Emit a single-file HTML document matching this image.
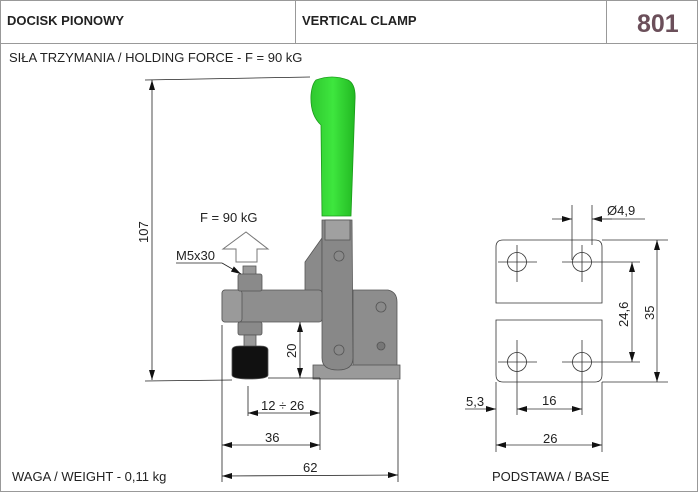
<!DOCTYPE html>
<html><head><style>
html,body{margin:0;padding:0;background:#fff;}
svg{display:block;font-family:"Liberation Sans",Arial,sans-serif;}
</style></head><body>
<svg width="700" height="492" viewBox="0 0 700 492" xmlns="http://www.w3.org/2000/svg">
<defs>
<marker id="a" viewBox="0 0 10 6" refX="10" refY="3" markerWidth="10" markerHeight="6" orient="auto-start-reverse" markerUnits="userSpaceOnUse"><path d="M0,0 L10,3 L0,6 z" fill="#111"/></marker>
<linearGradient id="g" x1="0" x2="1"><stop offset="0" stop-color="#2fc82f"/><stop offset="0.5" stop-color="#3ee63e"/><stop offset="1" stop-color="#22b822"/></linearGradient>
</defs>
<!-- header -->
<rect x="0.5" y="0.5" width="697" height="491" fill="none" stroke="#999"/>
<line x1="0" y1="43.5" x2="698" y2="43.5" stroke="#999"/>
<line x1="295.5" y1="0" x2="295.5" y2="43" stroke="#999"/>
<line x1="606.5" y1="0" x2="606.5" y2="43" stroke="#999"/>
<text x="7" y="25" font-size="13" font-weight="bold" fill="#222">DOCISK PIONOWY</text>
<text x="302" y="25" font-size="13" font-weight="bold" fill="#222">VERTICAL CLAMP</text>
<text x="637" y="32" font-size="25" font-weight="bold" fill="#6b4f5a">801</text>
<text x="9" y="62" font-size="13" fill="#222">SIŁA TRZYMANIA / HOLDING FORCE - F = 90 kG</text>
<text x="12" y="481" font-size="13" fill="#222">WAGA / WEIGHT - 0,11 kg</text>
<text x="492" y="481" font-size="13" fill="#222">PODSTAWA / BASE</text>

<!-- clamp -->
<g stroke="#555" stroke-width="0.8">
<path d="M305,292 L305,262 L322,238 L322,292 z" fill="#8a8a8a"/>
<path d="M353,290 L388,290 Q397,292 397,302 L397,370 L353,370 z" fill="#8d8d8d"/>
<rect x="313" y="365" width="87" height="14" fill="#9a9a9a"/>
<path d="M322,220 L352,220 L353,358 Q353,370 338,370 Q322,370 322,358 z" fill="#888"/>
<rect x="325" y="220" width="25" height="20" fill="#a0a0a0"/>
<rect x="222" y="290" width="100" height="32" rx="3" fill="#8e8e8e"/>
<rect x="222" y="290" width="20" height="32" rx="3" fill="#9a9a9a"/>
<rect x="243" y="266" width="13" height="10" fill="#999"/>
<rect x="238" y="274" width="24" height="17" rx="2" fill="#8a8a8a"/>
<rect x="238" y="322" width="24" height="13" rx="2" fill="#8a8a8a"/>
<rect x="244" y="335" width="12" height="14" fill="#9a9a9a"/>
<path d="M232,350 Q232,346 240,346 L260,346 Q268,346 268,350 L268,375 Q268,379 250,379 Q232,379 232,375 z" fill="#111"/>
<circle cx="339" cy="256" r="5" fill="#8a8a8a"/>
<circle cx="339" cy="350" r="5" fill="#8a8a8a"/>
<circle cx="381" cy="307" r="5" fill="#8a8a8a"/>
<circle cx="381" cy="346" r="4" fill="#777"/>
</g>
<path d="M316,80 Q332,74 348,80 Q356,84 355,100 L351,216 L322,216 L321,125 Q310,115 311,95 Q312,84 316,80 z" fill="url(#g)" stroke="#1a9a1a" stroke-width="0.8"/>

<!-- force arrow -->
<path d="M236,262 L236,249 L223,249 L246,232 L268,249 L257,249 L257,262 z" fill="#fff" stroke="#777"/>
<text x="200" y="222" font-size="13" fill="#222">F = 90 kG</text>
<text x="176" y="260" font-size="13" fill="#222">M5x30</text>
<line x1="176" y1="263" x2="222" y2="263" stroke="#222" stroke-width="0.8"/>
<line x1="222" y1="263" x2="241" y2="274" stroke="#222" stroke-width="0.8" marker-end="url(#a)"/>

<!-- dims left -->
<g stroke="#222" stroke-width="0.8" fill="none">
<line x1="145" y1="80" x2="310" y2="77"/>
<line x1="145" y1="381" x2="232" y2="380"/>
<line x1="152" y1="80" x2="152" y2="380" marker-start="url(#a)" marker-end="url(#a)"/>
<line x1="268" y1="378" x2="320" y2="378"/>
<line x1="300" y1="322" x2="300" y2="378" marker-start="url(#a)" marker-end="url(#a)"/>
<line x1="222" y1="325" x2="222" y2="482"/>
<line x1="248" y1="386" x2="248" y2="416"/>
<line x1="320" y1="378" x2="320" y2="450"/>
<line x1="398" y1="380" x2="398" y2="482"/>
<line x1="248" y1="413" x2="320" y2="413" marker-start="url(#a)" marker-end="url(#a)"/>
<line x1="222" y1="445" x2="320" y2="445" marker-start="url(#a)" marker-end="url(#a)"/>
<line x1="222" y1="476" x2="398" y2="475" marker-start="url(#a)" marker-end="url(#a)"/>
</g>
<text transform="translate(148,243) rotate(-90)" font-size="13" fill="#222">107</text>
<text transform="translate(296,358) rotate(-90)" font-size="13" fill="#222">20</text>
<text x="261" y="410" font-size="13" fill="#222">12 ÷ 26</text>
<text x="265" y="442" font-size="13" fill="#222">36</text>
<text x="303" y="472" font-size="13" fill="#222">62</text>

<!-- base plates -->
<g stroke="#333" stroke-width="0.8" fill="none">
<path d="M496,303 L496,247 Q496,240 503,240 L595,240 Q602,240 602,247 L602,303 z"/>
<path d="M496,320 L602,320 L602,375 Q602,382 595,382 L503,382 Q496,382 496,375 z"/>
<circle cx="517" cy="262" r="9.5"/><circle cx="582" cy="262" r="9.5"/>
<circle cx="517" cy="362" r="9.5"/><circle cx="582" cy="362" r="9.5"/>
<path d="M498,262 H537 M562,262 H640 M517,245 V282 M582,245 V282"/>
<path d="M498,362 H537 M562,362 H640 M517,340 V415 M582,340 V415"/>
<path d="M572,205 V260 M592,205 V245"/>
<line x1="552" y1="219" x2="572" y2="219" marker-end="url(#a)"/>
<line x1="612" y1="219" x2="592" y2="219" marker-end="url(#a)"/>
<line x1="592" y1="219" x2="645" y2="219"/>
<path d="M602,240 H668 M602,382 H668"/>
<line x1="632" y1="262" x2="632" y2="362" marker-start="url(#a)" marker-end="url(#a)"/>
<line x1="657" y1="240" x2="657" y2="382" marker-start="url(#a)" marker-end="url(#a)"/>
<path d="M496,382 V452 M602,382 V452"/>
<line x1="465" y1="409" x2="496" y2="409" marker-end="url(#a)"/>
<line x1="517" y1="409" x2="582" y2="409" marker-start="url(#a)" marker-end="url(#a)"/>
<line x1="496" y1="445" x2="602" y2="445" marker-start="url(#a)" marker-end="url(#a)"/>
</g>
<text x="607" y="215" font-size="13" fill="#222">Ø4,9</text>
<text transform="translate(628,327) rotate(-90)" font-size="13" fill="#222">24,6</text>
<text transform="translate(654,320) rotate(-90)" font-size="13" fill="#222">35</text>
<text x="466" y="406" font-size="13" fill="#222">5,3</text>
<text x="542" y="405" font-size="13" fill="#222">16</text>
<text x="543" y="443" font-size="13" fill="#222">26</text>
</svg>
</body></html>
